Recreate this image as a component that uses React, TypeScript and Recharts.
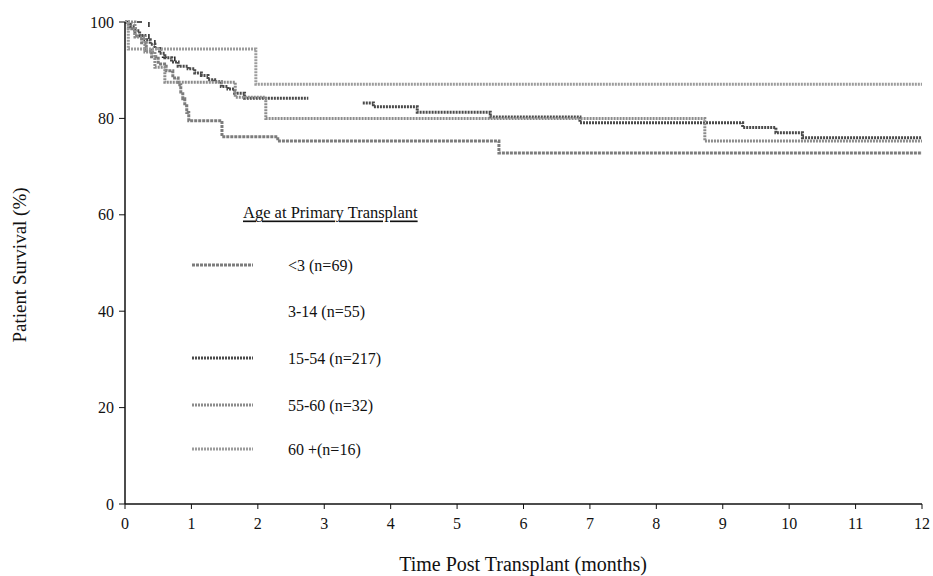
import { LineChart, Line, XAxis, YAxis } from 'recharts'

const FONT = "'Liberation Serif', 'Times New Roman', serif"

const MONTH_TICKS = [0, 1, 2, 3, 4, 5, 6, 7, 8, 9, 10, 11, 12]
const SURVIVAL_TICKS = [0, 20, 40, 60, 80, 100]

// [month, survival %] at each step
const UNDER_3: Array<[number, number]> = [
  [0, 100], [0.05, 98.6], [0.15, 97.1], [0.25, 95.7], [0.32, 94.2], [0.4, 92.8],
  [0.5, 91.3], [0.62, 89.9], [0.72, 88.4], [0.8, 87.0], [0.84, 85.5], [0.87, 84.1],
  [0.9, 82.6], [0.93, 81.2], [0.96, 79.5], [1.46, 76.2], [2.3, 75.3], [5.63, 72.8], [12, 72.8],
]
// only the short dashed piece near the start is visible in the scan
const AGE_3_14: Array<[number, number]> = [
  [0, 100], [0.3, 100], [0.36, 96.4], [0.45, 94.5], [0.55, 92.7], [0.75, 91.8],
]
// null = stretch missing from the scan
const AGE_15_54: Array<[number, number | null]> = [
  [0, 100], [0.08, 99.1], [0.15, 98.2], [0.22, 97.2], [0.3, 96.3], [0.38, 95.4],
  [0.45, 94.5], [0.52, 93.5], [0.6, 92.6], [0.7, 91.7], [0.8, 90.8], [0.95, 90.3],
  [1.05, 89.4], [1.15, 88.9], [1.25, 88.0], [1.35, 87.6], [1.45, 86.6], [1.55, 86.1],
  [1.65, 85.2], [1.8, 84.2], [2.76, 84.2], [3.2, null], [3.58, 83.2], [3.74, 82.4],
  [4.4, 81.3], [5.5, 80.3], [6.85, 79.1], [9.3, 78.1], [9.8, 77.0], [10.2, 76.0], [12, 76.0],
]
const AGE_55_60: Array<[number, number]> = [
  [0, 100], [0.15, 96.9], [0.3, 93.8], [0.45, 90.6], [0.6, 87.5], [1.66, 84.4],
  [2.12, 80.0], [8.73, 75.3], [12, 75.3],
]
const AGE_60_PLUS: Array<[number, number]> = [
  [0, 100], [0.05, 94.4], [1.97, 87.1], [12, 87.1],
]

interface Group {
  key: string
  label: string
  data: Array<[number, number | null]>
  color: string
  width: number
  dash?: string
  showInLegend: boolean
}

const GROUPS: Group[] = [
  { key: 'lt3', label: '<3 (n=69)', data: UNDER_3, color: '#7c7c7c', width: 3, dash: '3 1', showInLegend: true },
  { key: 'a314', label: '3-14 (n=55)', data: AGE_3_14, color: '#222', width: 1.5, dash: '5 7', showInLegend: false },
  { key: 'a1554', label: '15-54 (n=217)', data: AGE_15_54, color: '#4a4a4a', width: 3, dash: '2 1', showInLegend: true },
  { key: 'a5560', label: '55-60 (n=32)', data: AGE_55_60, color: '#8c8c8c', width: 3, dash: '2 1', showInLegend: true },
  { key: 'a60', label: '60 +(n=16)', data: AGE_60_PLUS, color: '#9c9c9c', width: 3, dash: '2 1', showInLegend: true },
]

const LEGEND_ROWS_Y = [265, 311, 358, 405, 449]

const tickStyle = { fontFamily: FONT, fontSize: 16, fill: '#111' }

export default function App() {
  return (
    <div style={{ position: 'absolute', left: 0, top: 0, width: 933, height: 576, background: '#fff' }}>
      <LineChart width={933} height={576} margin={{ top: 22, right: 11, bottom: 10, left: 65 }}>
        <XAxis
          type="number" dataKey="t" domain={[0, 12]} ticks={MONTH_TICKS} interval={0}
          allowDuplicatedCategory={false}
          axisLine={{ stroke: '#111', strokeWidth: 1.5 }} tickLine={{ stroke: '#111' }}
          tickSize={5} tickMargin={9} tick={tickStyle} height={62}
        />
        <YAxis
          type="number" domain={[0, 100]} ticks={SURVIVAL_TICKS} interval={0}
          axisLine={{ stroke: '#111', strokeWidth: 1.5 }} tickLine={{ stroke: '#111' }}
          tickSize={6} tickMargin={5} tick={tickStyle} width={60}
        />
        {GROUPS.map(g => (
          <Line
            key={g.key}
            data={g.data.map(([t, s]) => ({ t, s }))}
            dataKey="s"
            type="stepAfter"
            stroke={g.color}
            strokeWidth={g.width}
            strokeDasharray={g.dash}
            dot={false}
            activeDot={false}
            connectNulls={false}
            isAnimationActive={false}
          />
        ))}
      </LineChart>

      <svg width={933} height={576} style={{ position: 'absolute', left: 0, top: 0, pointerEvents: 'none' }}>
        <text x={19} y={265} transform="rotate(-90 19 265)" textAnchor="middle" dominantBaseline="central"
          fontFamily={FONT} fontSize={19} fill="#111">Patient Survival (%)</text>
        <text x={523} y={564} textAnchor="middle" dominantBaseline="central"
          fontFamily={FONT} fontSize={20} fill="#111">Time Post Transplant (months)</text>

        <text x={243} y={212} dominantBaseline="central" fontFamily={FONT} fontSize={16.5} fill="#111"
          style={{ textDecoration: 'underline' }}>Age at Primary Transplant</text>
        {GROUPS.map((g, i) => (
          <g key={g.key}>
            {g.showInLegend && (
              <line x1={192} x2={253} y1={LEGEND_ROWS_Y[i]} y2={LEGEND_ROWS_Y[i]}
                stroke={g.color} strokeWidth={g.width} strokeDasharray={g.dash} />
            )}
            <text x={288} y={LEGEND_ROWS_Y[i]} dominantBaseline="central" fontFamily={FONT} fontSize={16} fill="#111">
              {g.label}
            </text>
          </g>
        ))}
      </svg>
    </div>
  )
}
